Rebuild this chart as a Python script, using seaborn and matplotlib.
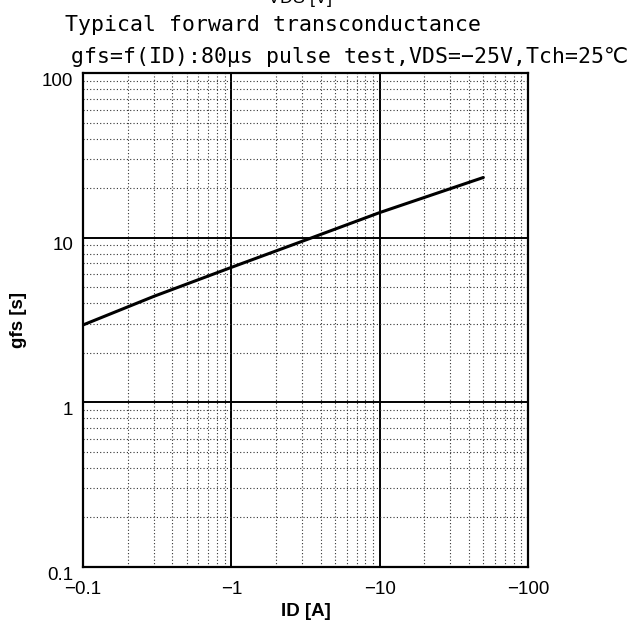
''' Typical forward transconductance chart '''
import numpy as np
import pandas as pd
import seaborn as sns
import matplotlib
matplotlib.use("Agg")
import matplotlib.pyplot as plt
from matplotlib.ticker import FixedLocator, FixedFormatter, LogLocator, NullFormatter
from matplotlib.transforms import ScaledTranslation

### Data ###
id_amps = [-0.1, -0.3, -1, -3.5, -10, -50]
gfs_siemens = [2.95, 4.4, 6.6, 10.0, 14.2, 23.2]

x_ticks = [0.1, 1, 10, 100]
x_tick_labels = ["\u22120.1", "\u22121", "\u221210", "\u2212100"]
y_ticks = [0.1, 1, 10, 100]
y_tick_labels = ["0.1", "1", "10", "100"]

title_1 = "Typical forward transconductance"
title_2 = "gfs=f(ID):80\u03bcs pulse test,VDS=\u221225V,Tch=25\u2103"

sns.set_style("white")
plt.rcParams['font.family'] = ['Liberation Sans', 'DejaVu Sans', 'Noto Sans CJK JP']
plt.rcParams['text.color'] = 'black'
plt.rcParams['xtick.color'] = 'black'
plt.rcParams['ytick.color'] = 'black'
plt.rcParams['axes.labelcolor'] = 'black'

df = pd.DataFrame({"ID": np.abs(id_amps), "gfs": gfs_siemens})

fig = plt.figure(figsize=(6.33, 6.25), dpi=100)
ax = fig.add_axes([83 / 633, 1 - 567 / 625, 445 / 633, 494 / 625])

sns.lineplot(data=df, x="ID", y="gfs", ax=ax, color="black", linewidth=2.2)

ax.set_xscale("log")
ax.set_yscale("log")
ax.set_xlim(0.1, 100)
ax.set_ylim(0.1, 100)

# major ticks at decades, minor dotted grid
ax.xaxis.set_major_locator(FixedLocator(x_ticks))
ax.xaxis.set_major_formatter(FixedFormatter(x_tick_labels))
ax.yaxis.set_major_locator(FixedLocator(y_ticks))
ax.yaxis.set_major_formatter(FixedFormatter(y_tick_labels))
ax.xaxis.set_minor_locator(LogLocator(base=10, subs=np.arange(2, 10)))
ax.yaxis.set_minor_locator(LogLocator(base=10, subs=np.arange(2, 10)))
ax.xaxis.set_minor_formatter(NullFormatter())
ax.yaxis.set_minor_formatter(NullFormatter())

ax.grid(which="major", color="black", linestyle="-", linewidth=1.4)
ax.grid(which="minor", color="#333333", linestyle=(0, (1, 2)), linewidth=0.8)
ax.tick_params(which="both", length=0)
ax.tick_params(axis="x", pad=10, labelsize=13.5)
ax.tick_params(axis="y", pad=7, labelsize=13.5)
for s in ax.spines.values():
    s.set_color("black")
    s.set_linewidth(1.6)

# y labels sit a little below their grid lines in the original
shift = ScaledTranslation(0, -0.06, fig.dpi_scale_trans)
for lab in ax.get_yticklabels():
    lab.set_transform(lab.get_transform() + shift)

ax.set_xlabel("ID [A]", fontsize=13.5, fontweight="bold", labelpad=4)
ax.set_ylabel("gfs [s]", fontsize=13.5, fontweight="bold", labelpad=11)

# titles
tfam = ['DejaVu Sans Mono', 'DejaVu Sans', 'Noto Sans CJK JP']
fig.text(65 / 633, 1 - 31 / 625, title_1, fontsize=15.5, family=tfam, ha="left", va="baseline")
fig.text(628 / 633, 1 - 63 / 625, title_2, fontsize=15.5, family=tfam, ha="right", va="baseline")
fig.text(300 / 633, 1 - 7 / 625, "VDS [V]", fontsize=13, ha="center", va="bottom")

fig.savefig("out.png", dpi=100)
